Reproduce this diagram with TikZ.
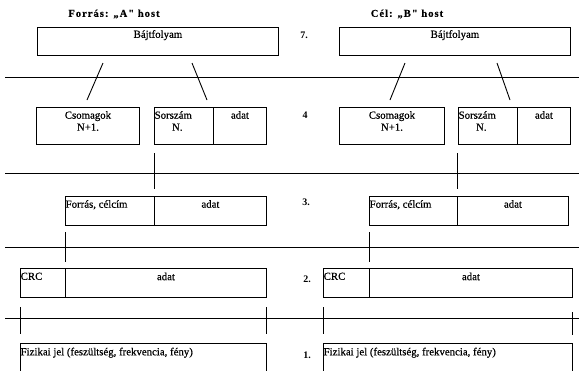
\documentclass[tikz,border=0pt]{standalone}
\usepackage{fontspec}
\setmainfont{Liberation Serif}
\newfontface\scanfont{Liberation Serif}[FakeBold=0.6]
\newfontface\scanbold{Liberation Serif Bold}[FakeBold=0.3,LetterSpace=10]
\newfontface\numfont{Liberation Serif Bold}
\begin{document}
\begin{tikzpicture}[x=1pt,y=-1pt]
\tikzset{
  cell/.style={draw, line width=0.9pt, rectangle, inner sep=0pt, anchor=north west},
  txt/.style={inner sep=0pt, font=\fontsize{10.8}{12}\selectfont\scanfont, align=center},
  ttl/.style={inner sep=0pt, font=\fontsize{10.5}{12}\selectfont\scanbold},
  num/.style={inner sep=0pt, font=\fontsize{10}{12}\selectfont\numfont},
  ln/.style={line width=0.9pt},
}
\clip (0,0) rectangle (579,370);
% layer separator lines
\foreach \y in {77,173,247,318} \draw[ln] (5,\y) -- (579,\y);

% ---------- left host ----------
\node[ttl] (tA) at (114,14) {Forrás: „A" host};
\node[cell, minimum width=241pt, minimum height=28pt] (b7l) at (37,27) {};
\node[txt, anchor=north] at ([yshift=-3pt]b7l.north) {Bájtfolyam};

\node[cell, minimum width=103pt, minimum height=37pt] (c4l) at (36,107) {};
\node[txt, anchor=north] at ([yshift=-4pt]c4l.north) {Csomagok\\N+1.};
\node[cell, minimum width=59pt, minimum height=37pt] (s4l) at (154,107) {};
\node[txt, anchor=north west] (s4lt) at ([xshift=0.5pt,yshift=-4pt]s4l.north west) {Sorszám};
\node[txt, anchor=base] at ([xshift=4pt,yshift=-12pt]s4lt.base) {N.};
\node[cell, minimum width=53pt, minimum height=37pt] (a4l) at (213,107) {};
\node[txt, anchor=north] at ([yshift=-4pt]a4l.north) {adat};

\node[cell, minimum width=89pt, minimum height=29pt] (f3l) at (65,196) {};
\node[txt, anchor=north west] at ([xshift=0.5pt,yshift=-4pt]f3l.north west) {Forrás, célcím};
\node[cell, minimum width=112pt, minimum height=29pt] (a3l) at (154,196) {};
\node[txt, anchor=north] at ([yshift=-4pt]a3l.north) {adat};

\node[cell, minimum width=45pt, minimum height=29pt] (crcl) at (20,268) {};
\node[txt, anchor=north west] at ([xshift=0.5pt,yshift=-4.5pt]crcl.north west) {CRC};
\node[cell, minimum width=201pt, minimum height=29pt] (a2l) at (65,268) {};
\node[txt, anchor=north] at ([yshift=-4.5pt]a2l.north) {adat};

\node[cell, minimum width=246pt, minimum height=40pt] (p1l) at (20,343) {};
\node[txt, anchor=north west] at ([xshift=0.5pt,yshift=-4.5pt]p1l.north west) {Fizikai jel (feszültség, frekvencia, fény)};

% connectors left
\coordinate (l1a) at (103,63); \coordinate (l1b) at (87,100);
\coordinate (l2a) at (192,63); \coordinate (l2b) at (207,100);
\draw[ln] (l1a) -- (l1b);
\draw[ln] (l2a) -- (l2b);
\coordinate (l3a) at (154,153); \coordinate (l3b) at (154,189);
\draw[ln] (l3a) -- (l3b);
\coordinate (l4a) at (65,232); \coordinate (l4b) at (65,262);
\draw[ln] (l4a) -- (l4b);
\coordinate (l5a) at (20,307); \coordinate (l5b) at (20,334);
\coordinate (l6a) at (266,307); \coordinate (l6b) at (266,334);
\draw[ln] (l5a) -- (l5b);
\draw[ln] (l6a) -- (l6b);

% ---------- layer numbers ----------
\node[num] (n7) at (304,35) {7.};
\node[num] (n4) at (305,115) {4};
\node[num] (n3) at (306,202) {3.};
\node[num] (n2) at (307,279) {2.};
\node[num] (n1) at (307,355) {1.};

% ---------- right host ----------
\node[ttl] (tB) at (407,14) {Cél: „B" host};
\node[cell, minimum width=231pt, minimum height=28pt] (b7r) at (339,27) {};
\node[txt, anchor=north] at ([yshift=-3pt]b7r.north) {Bájtfolyam};

\node[cell, minimum width=105pt, minimum height=37pt] (c4r) at (339,107) {};
\node[txt, anchor=north] at ([yshift=-4pt]c4r.north) {Csomagok\\N+1.};
\node[cell, minimum width=59pt, minimum height=37pt] (s4r) at (458,107) {};
\node[txt, anchor=north west] (s4rt) at ([xshift=0.5pt,yshift=-4pt]s4r.north west) {Sorszám};
\node[txt, anchor=base] at ([xshift=4pt,yshift=-12pt]s4rt.base) {N.};
\node[cell, minimum width=53pt, minimum height=37pt] (a4r) at (517,107) {};
\node[txt, anchor=north] at ([yshift=-4pt]a4r.north) {adat};

\node[cell, minimum width=88pt, minimum height=29pt] (f3r) at (369,196) {};
\node[txt, anchor=north west] at ([xshift=0.5pt,yshift=-4pt]f3r.north west) {Forrás, célcím};
\node[cell, minimum width=111pt, minimum height=29pt] (a3r) at (457,196) {};
\node[txt, anchor=north] at ([yshift=-4pt]a3r.north) {adat};

\node[cell, minimum width=46pt, minimum height=29pt] (crcr) at (323,268) {};
\node[txt, anchor=north west] at ([xshift=0.5pt,yshift=-4.5pt]crcr.north west) {CRC};
\node[cell, minimum width=203pt, minimum height=29pt] (a2r) at (369,268) {};
\node[txt, anchor=north] at ([yshift=-4.5pt]a2r.north) {adat};

\node[cell, minimum width=249pt, minimum height=40pt] (p1r) at (323,343) {};
\node[txt, anchor=north west] at ([xshift=0.5pt,yshift=-4.5pt]p1r.north west) {Fizikai jel (feszültség, frekvencia, fény)};

% connectors right
\coordinate (r1a) at (405,63); \coordinate (r1b) at (390,100);
\coordinate (r2a) at (497,63); \coordinate (r2b) at (510,100);
\draw[ln] (r1a) -- (r1b);
\draw[ln] (r2a) -- (r2b);
\coordinate (r3a) at (457,153); \coordinate (r3b) at (457,189);
\draw[ln] (r3a) -- (r3b);
\coordinate (r4a) at (369,232); \coordinate (r4b) at (369,262);
\draw[ln] (r4a) -- (r4b);
\coordinate (r5a) at (323,307); \coordinate (r5b) at (323,334);
\coordinate (r6a) at (572,312); \coordinate (r6b) at (572,335);
\draw[ln] (r5a) -- (r5b);
\draw[ln] (r6a) -- (r6b);
\end{tikzpicture}
\end{document}
